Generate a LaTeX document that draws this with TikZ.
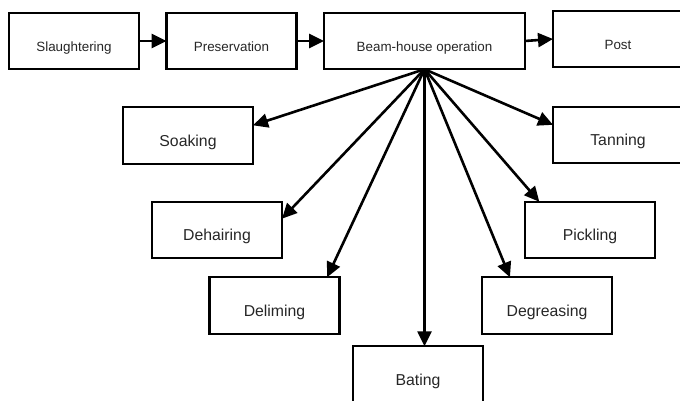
\documentclass[tikz,border=0pt]{standalone}
\usepackage{fontspec}
\setmainfont{Liberation Sans}
\usetikzlibrary{arrows.meta,calc}
\begin{document}
\begin{tikzpicture}[x=1pt,y=-1pt,
  box/.style={draw=black,line width=2.1pt,rectangle,outer sep=0pt,inner sep=0pt,
    minimum width=130pt,minimum height=56.5pt,text height=21.5pt,text depth=0pt,
    text=black!85,font=\fontsize{15.8}{18}\selectfont},
  topbox/.style={box,font=\fontsize{13.4}{15}\selectfont},
  conn/.style={line width=2.6pt,-{Triangle[length=15pt,width=14pt]}}]
\useasboundingbox (0,0) rectangle (680,401);
\clip (0,0) rectangle (680,401);
% top row
\node[topbox] (slaught) at (74,41) {Slaughtering};
\node[topbox] (pres) at (231.5,41) {Preservation};
\node[topbox,minimum width=201pt] (beam) at (424.5,41) {Beam-house operation};
\node[topbox,minimum height=56pt] (post) at (618,39) {Post};
% sub-steps
\node[box] (soak) at (188,135.5) {Soaking};
\node[box] (tan) at (618,135) {Tanning};
\node[box] (dehair) at (217,230) {Dehairing};
\node[box] (pick) at (590,230) {Pickling};
\node[box] (delim) at (274.5,305.5) {Deliming};
\node[box] (degr) at (547,305.5) {Degreasing};
\node[box] (bating) at (418,374.5) {Bating};
% top row arrows
\draw[conn] (slaught.east) -- (pres.west);
\draw[conn] (pres.east) -- (beam.west);
\draw[conn] (beam.east) -- (post.west);
% fan
\draw[conn] (beam.south) -- ($(soak.north east)!0.32!(soak.south east)$);
\draw[conn] (beam.south) -- ($(dehair.north east)!0.3!(dehair.south east)$);
\draw[conn] (beam.south) -- ($(delim.north west)!0.905!(delim.north east)$);
\draw[conn] (beam.south) -- (beam.south |- bating.north);
\draw[conn] (beam.south) -- ($(degr.north west)!0.215!(degr.north east)$);
\draw[conn] (beam.south) -- ($(pick.north west)!0.11!(pick.north east)$);
\draw[conn] (beam.south) -- ($(tan.north west)!0.32!(tan.south west)$);
\end{tikzpicture}
\end{document}
